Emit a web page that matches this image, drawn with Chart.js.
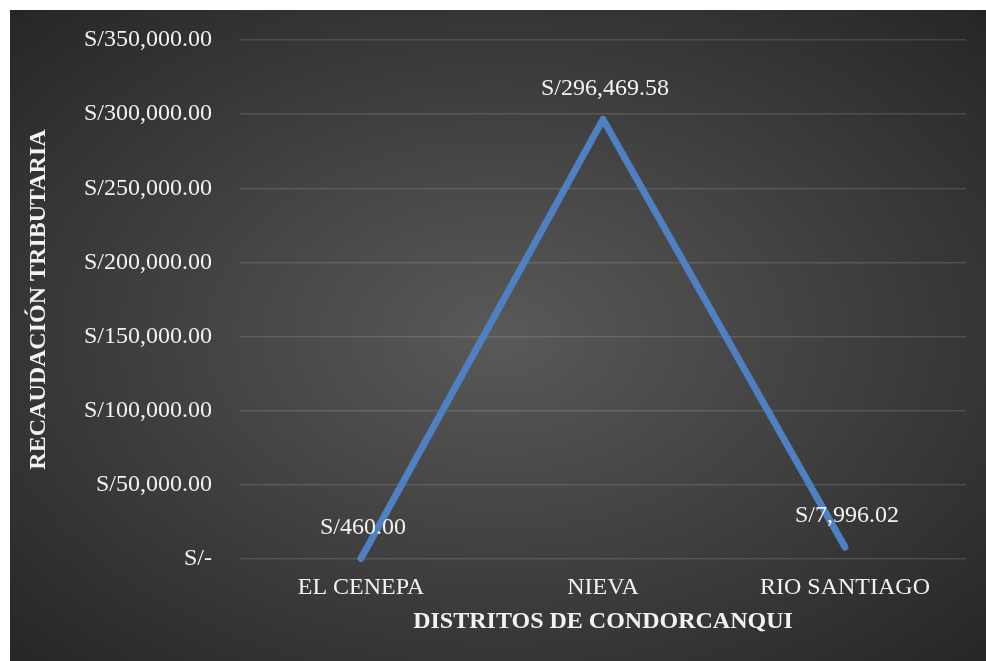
<!DOCTYPE html>
<html>
<head>
<meta charset="utf-8">
<script src="https://cdn.jsdelivr.net/npm/chart.js@4"></script>
<style>
  html, body { margin: 0; padding: 0; background: #ffffff; }
  #wrap {
    position: absolute; left: 10px; top: 10px; width: 976px; height: 651px;
    background: radial-gradient(ellipse farthest-corner at 50% 50%, #595959 0%, #262626 100%);
  }
</style>
</head>
<body>
<div id="wrap"><canvas id="c"></canvas></div>
<script>
const categories = ["EL CENEPA", "NIEVA", "RIO SANTIAGO"];
const recaudacion = [460.00, 296469.58, 7996.02];
const yTickValues = [0, 50000, 100000, 150000, 200000, 250000, 300000, 350000];
const yTickLabels = ["S/-", "S/50,000.00", "S/100,000.00", "S/150,000.00", "S/200,000.00", "S/250,000.00", "S/300,000.00", "S/350,000.00"];
const xTitle = "DISTRITOS DE CONDORCANQUI";
const yTitle = "RECAUDACIÓN TRIBUTARIA";

const FONT = "'Liberation Serif', 'Times New Roman', serif";
const TXT = "#f2f2f2";

function fmtMoney(v) {
  if (v === 0) return "S/-";
  return "S/" + v.toLocaleString("en-US", { minimumFractionDigits: 2, maximumFractionDigits: 2 });
}

const dataLabelPlugin = {
  id: "dataLabels",
  afterDatasetsDraw(chart) {
    const ctx = chart.ctx;
    const meta = chart.getDatasetMeta(0);
    ctx.save();
    ctx.font = "24px " + FONT;
    ctx.fillStyle = TXT;
    ctx.textAlign = "center";
    ctx.textBaseline = "middle";
    meta.data.forEach((pt, i) => {
      ctx.fillText(fmtMoney(chart.data.datasets[0].data[i]), pt.x + 2, pt.y - 31);
    });
    ctx.restore();
  }
};

new Chart(document.getElementById("c"), {
  type: "line",
  data: {
    labels: categories,
    datasets: [{
      data: recaudacion,
      borderColor: "#4f81c2",
      borderWidth: 7,
      borderCapStyle: "round",
      borderJoinStyle: "round",
      pointRadius: 0,
      pointHoverRadius: 0,
      tension: 0,
      fill: false,
      clip: false
    }]
  },
  options: {
    responsive: true,
    maintainAspectRatio: false,
    animation: false,
    events: [],
    layout: { padding: { top: 30, right: 20, left: 0, bottom: 0 } },
    plugins: { legend: { display: false }, tooltip: { enabled: false } },
    scales: {
      x: {
        offset: true,
        grid: { display: false, drawTicks: false },
        border: { display: false },
        ticks: { color: TXT, font: { family: FONT, size: 24 }, padding: 14, maxRotation: 0 },
        title: { display: true, text: xTitle, color: TXT, font: { family: FONT, size: 24, weight: "bold" }, padding: { top: 0, bottom: 25 } },
        afterFit(scale) { scale.height = 102; }
      },
      y: {
        min: 0,
        max: 350000,
        afterBuildTicks(scale) { scale.ticks = yTickValues.map(v => ({ value: v })); },
        grid: { color: "rgba(255,255,255,0.13)", lineWidth: 1.5, drawTicks: false },
        border: { display: false },
        ticks: {
          color: TXT,
          font: { family: FONT, size: 24 },
          padding: 28,
          callback(value) { const i = yTickValues.indexOf(value); return i >= 0 ? yTickLabels[i] : ""; }
        },
        title: { display: true, text: yTitle, color: TXT, font: { family: FONT, size: 24, weight: "bold" }, padding: { top: 14, bottom: 0 } },
        afterFit(scale) { scale.width = 230; scale.paddingTop = 14; scale.paddingBottom = 14; }
      }
    }
  },
  plugins: [dataLabelPlugin]
});
</script>
</body>
</html>
